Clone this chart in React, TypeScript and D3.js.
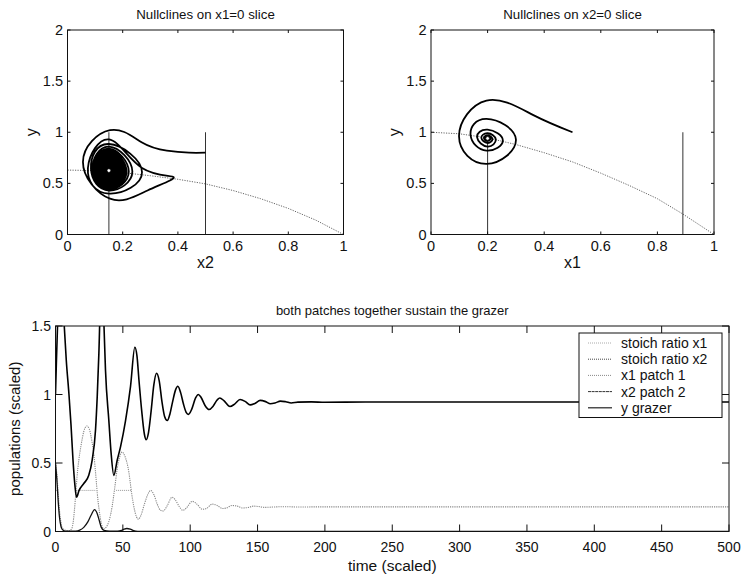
import React from 'react';
import * as d3 from 'd3';

type P = [number, number];

// ---------- tick values ----------
const phaseXTicks = [0, 0.2, 0.4, 0.6, 0.8, 1];
const phaseYTicks = [0, 0.5, 1, 1.5, 2];
const timeTicks = [0, 50, 100, 150, 200, 250, 300, 350, 400, 450, 500];
const popTicks = [0, 0.5, 1, 1.5];

// ---------- slice x1 = 0 (x2 vs y) ----------
const s1Curve: P[] = [[0, 0.63], [0.1, 0.625], [0.2, 0.605], [0.3, 0.575], [0.4, 0.54], [0.5, 0.495], [0.6, 0.43], [0.7, 0.35], [0.8, 0.255], [0.9, 0.14], [1, 0]];
const s1Verticals: P[][] = [[[0.15, 0], [0.15, 1]], [[0.5, 0], [0.5, 1]]];
const s1Trajectory: P[] = [
  [0.5, 0.8], [0.44, 0.8], [0.36, 0.82], [0.27, 0.9], [0.154, 1.02], [0.056, 0.71], [0.154, 0.35], [0.29, 0.43], [0.385, 0.56],
  [0.27, 0.65], [0.15, 0.93], [0.074, 0.65], [0.15, 0.4], [0.27, 0.61],
  [0.15, 0.885], [0.085, 0.64], [0.15, 0.43], [0.235, 0.615],
  [0.15, 0.86], [0.09, 0.635], [0.15, 0.445], [0.222, 0.615],
  [0.15, 0.84], [0.094, 0.635], [0.15, 0.455], [0.214, 0.615],
  [0.15, 0.825], [0.097, 0.633], [0.15, 0.465], [0.208, 0.615],
  [0.15, 0.81], [0.1, 0.632], [0.15, 0.475], [0.203, 0.616],
  [0.15, 0.795], [0.103, 0.632], [0.15, 0.485], [0.199, 0.616],
  [0.15, 0.78], [0.106, 0.631], [0.15, 0.495], [0.195, 0.617],
  [0.15, 0.765], [0.109, 0.631], [0.15, 0.505], [0.191, 0.617],
  [0.15, 0.75], [0.112, 0.63], [0.15, 0.515], [0.187, 0.618],
  [0.15, 0.735], [0.116, 0.63], [0.15, 0.53], [0.183, 0.618],
  [0.15, 0.72], [0.12, 0.629], [0.15, 0.545], [0.179, 0.619],
  [0.15, 0.705], [0.124, 0.628], [0.15, 0.56], [0.175, 0.62],
  [0.15, 0.69], [0.128, 0.628], [0.15, 0.575], [0.17, 0.621],
  [0.15, 0.675], [0.133, 0.627], [0.15, 0.59], [0.165, 0.622],
  [0.15, 0.66], [0.138, 0.626], [0.15, 0.6], [0.16, 0.623],
  [0.15, 0.645], [0.143, 0.625], [0.15, 0.61], [0.156, 0.624], [0.15, 0.625]
];
const s1Equilibrium: P = [0.15, 0.625];

// ---------- slice x2 = 0 (x1 vs y) ----------
const s2Curve: P[] = [[0, 1.0], [0.1, 0.985], [0.2, 0.945], [0.3, 0.88], [0.4, 0.8], [0.5, 0.71], [0.6, 0.6], [0.7, 0.48], [0.8, 0.35], [0.89, 0.2], [1, 0]];
const s2Verticals: P[][] = [[[0.2, 0], [0.2, 0.94]], [[0.89, 0], [0.89, 1]]];
const s2Trajectory: P[] = [
  [0.5, 1.0], [0.36, 1.17], [0.196, 1.31],
  [0.099, 0.96], [0.196, 0.69], [0.3, 0.93],
  [0.196, 1.13], [0.14, 0.97], [0.196, 0.82], [0.254, 0.92],
  [0.2, 1.025], [0.163, 0.95], [0.2, 0.86], [0.229, 0.93],
  [0.2, 0.99], [0.178, 0.945], [0.2, 0.895], [0.217, 0.935],
  [0.2, 0.968], [0.187, 0.943], [0.2, 0.915], [0.21, 0.938],
  [0.2, 0.955], [0.193, 0.941], [0.2, 0.93], [0.204, 0.94], [0.2, 0.94]
];
const s2Equilibrium: P = [0.2, 0.94];

// ---------- time series ----------
const yGrazer: P[] = [
  [0, 1.0], [0.7, 1.25], [1.5, 1.5], [2.5, 1.75], [4, 1.85], [5.5, 1.7], [6.5, 1.5], [8, 1.25], [10, 1.0], [11.5, 0.78],
  [13, 0.52], [14.3, 0.35], [15.6, 0.25], [17.5, 0.3], [21, 0.35], [24.7, 0.41], [27.2, 0.52], [29.7, 0.74], [31, 0.99],
  [32.2, 1.3], [33.5, 1.7], [35, 1.75], [36, 1.5], [37.1, 1.18], [39.6, 0.81], [41.3, 0.57], [43.3, 0.41], [45.8, 0.52],
  [48.3, 0.62], [52, 0.81], [55.7, 1.06], [58.9, 1.345], [60.5, 1.28], [62, 1.1], [64, 0.88], [66, 0.71], [67.3, 0.67],
  [69, 0.72], [71, 0.88], [73, 1.07], [75, 1.155], [77, 1.1], [79, 0.95], [81, 0.84], [83, 0.81], [85, 0.86], [87, 0.95],
  [89, 1.03], [90.8, 1.06], [93, 1.01], [95, 0.93], [97, 0.87], [98.7, 0.855], [101, 0.89], [104, 0.975], [106, 1.0],
  [108, 0.98], [111, 0.92], [114, 0.89], [117, 0.915], [120, 0.96], [122, 0.975], [125, 0.955], [129.5, 0.912],
  [133, 0.93], [137, 0.963], [141, 0.948], [144.5, 0.924], [148, 0.935], [152, 0.957], [156, 0.948], [159.5, 0.932],
  [163, 0.938], [167, 0.952], [171, 0.947], [175, 0.938], [180, 0.944], [190, 0.946], [200, 0.943], [230, 0.945], [500, 0.945]
];
const x1Patch1: P[] = [
  [0, 0.5], [1, 0.42], [2, 0.28], [3, 0.15], [4, 0.07], [5, 0.03], [7, 0.01], [10, 0.005], [12, 0.02], [13, 0.06],
  [14, 0.15], [15, 0.27], [16, 0.4], [17.3, 0.52], [19, 0.63], [21, 0.73], [23.3, 0.77], [25, 0.75], [27, 0.66],
  [28.6, 0.55], [30, 0.4], [31, 0.28], [32.5, 0.15], [34, 0.06], [35.8, 0.02], [37.5, 0.03], [39.5, 0.07], [42, 0.18],
  [44, 0.32], [45.7, 0.45], [47.5, 0.54], [49.4, 0.58], [51.5, 0.55], [54.5, 0.43], [56.5, 0.28], [58.2, 0.18],
  [60, 0.11], [61.5, 0.09], [63.5, 0.12], [66, 0.2], [68.5, 0.27], [70.7, 0.3], [73, 0.27], [75.5, 0.2], [78, 0.155],
  [80, 0.15], [83, 0.19], [86.5, 0.25], [89, 0.23], [92, 0.18], [94.5, 0.155], [97, 0.17], [101.5, 0.22], [105, 0.2],
  [109, 0.162], [112, 0.168], [116.5, 0.2], [120, 0.19], [124, 0.168], [127, 0.172], [131, 0.19], [135, 0.185],
  [139, 0.172], [143, 0.175], [147, 0.185], [151, 0.182], [155, 0.176], [160, 0.178], [170, 0.181], [180, 0.179],
  [200, 0.18], [500, 0.18]
];
const x2Patch2: P[] = [
  [0, 0.5], [1, 0.38], [2, 0.22], [3, 0.1], [4, 0.04], [5, 0.015], [7, 0.003], [15, 0.003], [18, 0.01], [21, 0.03],
  [24, 0.07], [26.5, 0.12], [29, 0.16], [31, 0.13], [32.5, 0.08], [34, 0.03], [36, 0.008], [40, 0.002], [46, 0.002],
  [49, 0.008], [51, 0.018], [53, 0.022], [55.5, 0.017], [58, 0.006], [61, 0.001], [70, 0], [500, 0]
];
const stoichX1: P[][] = [[[15.5, 0.3], [29.5, 0.3]], [[45, 0.3], [56.5, 0.3]]];
const stoichX2: P[][] = [[[0, 0.3], [1.5, 0.3]]];

const legendLabels = ['stoich ratio x1', 'stoich ratio x2', 'x1 patch 1', 'x2 patch 2', 'y grazer'];

const FONT = '"Liberation Sans", Arial, Helvetica, sans-serif';

type Box = { left: number; right: number; top: number; bottom: number };

function Frame({ box, xs, ys, xTicks, yTicks, tickLen, fs, xOff }: any) {
  return (
    <g>
      <rect x={box.left} y={box.top} width={box.right - box.left} height={box.bottom - box.top} fill="none" stroke="#111" strokeWidth={1} />
      {xTicks.map((t: number) => (
        <g key={'x' + t}>
          <line x1={xs(t)} x2={xs(t)} y1={box.bottom} y2={box.bottom - tickLen} stroke="#111" />
          <line x1={xs(t)} x2={xs(t)} y1={box.top} y2={box.top + tickLen} stroke="#111" />
          <text x={xs(t)} y={box.bottom + xOff} textAnchor="middle" fontSize={fs} fontFamily={FONT} fill="#111">{String(t)}</text>
        </g>
      ))}
      {yTicks.map((t: number) => (
        <g key={'y' + t}>
          <line x1={box.left} x2={box.left + tickLen} y1={ys(t)} y2={ys(t)} stroke="#111" />
          <line x1={box.right} x2={box.right - tickLen} y1={ys(t)} y2={ys(t)} stroke="#111" />
          <text x={box.left - 4.5} y={ys(t) + 5} textAnchor="end" fontSize={fs} fontFamily={FONT} fill="#111">{String(t)}</text>
        </g>
      ))}
    </g>
  );
}

function Phase({ box, curve, verticals, traj, eq, title, xlabel, clipId }: any) {
  const xs = d3.scaleLinear().domain([0, 1]).range([box.left, box.right]);
  const ys = d3.scaleLinear().domain([0, 2]).range([box.bottom, box.top]);
  const straight = d3.line<P>().x(d => xs(d[0])).y(d => ys(d[1]));
  const smooth = d3.line<P>().x(d => xs(d[0])).y(d => ys(d[1])).curve(d3.curveNatural);
  const cx = (box.left + box.right) / 2;
  const cy = (box.top + box.bottom) / 2;
  return (
    <g>
      <clipPath id={clipId}><rect x={box.left} y={box.top} width={box.right - box.left} height={box.bottom - box.top} /></clipPath>
      <g clipPath={`url(#${clipId})`}>
        <path d={straight(curve) || ''} fill="none" stroke="#666" strokeWidth={1} strokeDasharray="1.2,1.3" />
        {verticals.map((v: P[], i: number) => (
          <path key={i} d={straight(v) || ''} fill="none" stroke="#333" strokeWidth={1} />
        ))}
        <path d={smooth(traj) || ''} fill="none" stroke="#000" strokeWidth={1.8} strokeLinejoin="round" />
        <circle cx={xs(eq[0])} cy={ys(eq[1])} r={1.8} fill="#fff" stroke="#000" strokeWidth={0.6} />
      </g>
      <Frame box={box} xs={xs} ys={ys} xTicks={phaseXTicks} yTicks={phaseYTicks} tickLen={3} fs={14.5} xOff={16} />
      <text x={cx} y={box.top - 11} textAnchor="middle" fontSize={13.3} fontFamily={FONT} fill="#111">{title}</text>
      <text x={cx} y={box.bottom + 33} textAnchor="middle" fontSize={16} fontFamily={FONT} fill="#111">{xlabel}</text>
      <text transform={`translate(${box.left - 31},${cy}) rotate(-90)`} textAnchor="middle" fontSize={16} fontFamily={FONT} fill="#111">y</text>
    </g>
  );
}

export default function App() {
  const boxA: Box = { left: 67.5, right: 343.5, top: 30, bottom: 234.5 };
  const boxB: Box = { left: 431, right: 714, top: 30, bottom: 234.5 };
  const boxC: Box = { left: 55.5, right: 729, top: 326, bottom: 531.5 };

  const xs = d3.scaleLinear().domain([0, 500]).range([boxC.left, boxC.right]);
  const ys = d3.scaleLinear().domain([0, 1.5]).range([boxC.bottom, boxC.top]);
  const smooth = d3.line<P>().x(d => xs(d[0])).y(d => ys(d[1])).curve(d3.curveMonotoneX);
  const straight = d3.line<P>().x(d => xs(d[0])).y(d => ys(d[1]));

  const legStyles = [
    { stroke: '#aaa', dash: '1,1', w: 1 },
    { stroke: '#444', dash: '1,1', w: 1 },
    { stroke: '#888', dash: '1,1', w: 1 },
    { stroke: '#333', dash: '3,0.6', w: 1 },
    { stroke: '#222', dash: '', w: 1.2 },
  ];
  const leg = { left: 579, top: 333, right: 722, bottom: 417.5 };

  return (
    <svg width={743} height={575} style={{ position: 'absolute', left: 0, top: 0, background: '#fff' }}>
      <rect x={0} y={0} width={743} height={575} fill="#fff" />
      <Phase box={boxA} curve={s1Curve} verticals={s1Verticals} traj={s1Trajectory} eq={s1Equilibrium}
        title="Nullclines on x1=0 slice" xlabel="x2" clipId="clipA" />
      <Phase box={boxB} curve={s2Curve} verticals={s2Verticals} traj={s2Trajectory} eq={s2Equilibrium}
        title="Nullclines on x2=0 slice" xlabel="x1" clipId="clipB" />

      <clipPath id="clipC"><rect x={boxC.left} y={boxC.top} width={boxC.right - boxC.left} height={boxC.bottom - boxC.top} /></clipPath>
      <g clipPath="url(#clipC)">
        {stoichX1.map((s, i) => (
          <path key={'s1' + i} d={straight(s) || ''} fill="none" stroke="#999" strokeWidth={1} strokeDasharray="1,1" />
        ))}
        {stoichX2.map((s, i) => (
          <path key={'s2' + i} d={straight(s) || ''} fill="none" stroke="#555" strokeWidth={1} strokeDasharray="1,1" />
        ))}
        <path d={smooth(x1Patch1) || ''} fill="none" stroke="#888" strokeWidth={1.1} strokeDasharray="1.2,1" />
        <path d={smooth(x2Patch2) || ''} fill="none" stroke="#111" strokeWidth={1.3} />
        <path d={smooth(yGrazer) || ''} fill="none" stroke="#000" strokeWidth={1.6} />
      </g>
      <Frame box={boxC} xs={xs} ys={ys} xTicks={timeTicks} yTicks={popTicks} tickLen={7} fs={14} xOff={20} />
      <text x={(boxC.left + boxC.right) / 2} y={boxC.top - 11} textAnchor="middle" fontSize={13} fontFamily={FONT} fill="#111">both patches together sustain the grazer</text>
      <text x={(boxC.left + boxC.right) / 2} y={boxC.bottom + 39} textAnchor="middle" fontSize={15.5} fontFamily={FONT} fill="#111">time (scaled)</text>
      <text transform={`translate(${boxC.left - 36},${(boxC.top + boxC.bottom) / 2}) rotate(-90)`} textAnchor="middle" fontSize={15} fontFamily={FONT} fill="#111">populations (scaled)</text>

      <rect x={leg.left} y={leg.top} width={leg.right - leg.left} height={leg.bottom - leg.top} fill="#fff" stroke="#111" strokeWidth={1} />
      {legendLabels.map((lab, i) => {
        const y = leg.top + 10 + i * 16.2;
        const st = legStyles[i];
        return (
          <g key={lab}>
            <line x1={588} x2={612} y1={y} y2={y} stroke={st.stroke} strokeWidth={st.w} strokeDasharray={st.dash} />
            <text x={621} y={y + 5} fontSize={14} fontFamily={FONT} fill="#111">{lab}</text>
          </g>
        );
      })}
    </svg>
  );
}
